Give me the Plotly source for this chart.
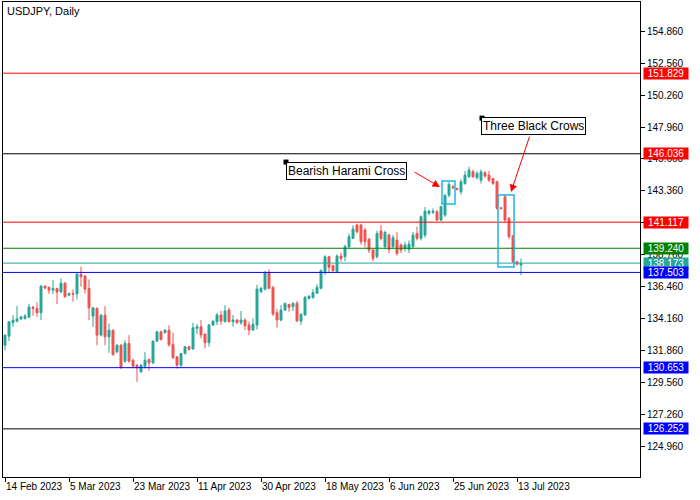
import plotly.graph_objects as go

title_text = "USDJPY, Daily"
opens = [132.27,132.92,133.88,134.0,134.15,134.2,134.29,135.0,134.91,134.6,
 136.52,136.42,136.23,136.35,136.11,136.73,135.87,135.99,135.96,137.38,
 137.24,136.35,134.36,134.91,132.99,134.43,132.87,133.35,131.79,132.27,
 131.12,132.39,131.19,130.83,130.35,130.76,131.24,131.0,132.56,133.23,
 133.18,133.35,132.34,131.43,130.83,
 131.68,132.16,132.0,133.48,133.6,133.07,132.45,133.72,133.96,134.44,
 133.96,134.8,133.96,134.08,133.89,134.08,133.72,133.36,133.72,136.12,
 136.31,137.51,136.43,134.61,134.08,134.8,135.2,135.04,135.28,134.0,
 134.44,135.64,135.71,136.0,136.36,137.56,138.63,137.99,137.56,138.68,
 138.63,139.35,139.95,140.91,140.91,140.55,139.88,139.11,138.63,140.48,
 139.35,140.19,139.35,139.83,139.47,139.23,139.16,139.35,140.31,139.95,
 140.19,141.75,141.82,141.87,141.27,141.63,143.06,143.66,143.54,143.30,
 143.90,144.38,144.74,144.31,144.14,144.67,144.50,144.26,144.02,142.15,
 142.94,141.39,140.12,138.27,138.03]
highs = [133.05,134.0,134.43,135.08,134.4,134.5,135.25,135.1,135.35,136.6,
 136.55,136.5,136.95,136.4,137.07,136.8,136.05,136.28,137.45,137.91,
 137.3,137.0,135.0,135.0,134.5,135.08,133.83,133.4,132.35,132.35,
 132.63,132.99,131.3,130.9,130.9,131.77,131.3,132.6,133.3,133.3,
 133.4,133.71,133.16,131.5,131.7,
 132.2,132.2,133.89,133.8,134.08,133.1,133.8,134.05,134.6,134.73,
 135.16,134.97,134.44,134.15,134.73,134.2,133.96,134.2,136.6,136.45,
 137.6,137.72,136.5,134.87,135.16,135.3,135.25,135.35,135.45,134.55,
 135.8,135.85,136.3,136.65,137.72,138.75,138.7,138.05,138.8,138.92,
 139.5,140.3,140.9,141.0,141.0,140.7,140.0,139.2,140.5,140.9,
 140.5,140.3,140.2,140.4,139.6,139.7,139.8,140.4,140.8,141.6,
 142.2,142.0,142.1,142.0,142.3,143.1,144.0,143.8,143.6,144.2,
 144.8,145.1,144.9,144.8,144.9,144.8,144.8,144.3,144.1,142.2,
 143.1,141.5,140.2,138.3,138.5]
lows = [131.9,132.57,133.59,133.9,134.1,134.1,134.2,134.38,134.3,134.07,
 136.3,135.95,135.95,135.23,136.0,135.7,135.8,135.39,135.56,136.47,
 135.99,134.07,133.59,132.27,132.9,132.27,131.72,131.5,131.7,130.56,
 131.0,131.0,130.6,129.63,130.3,130.6,130.43,130.9,132.5,132.6,
 133.1,132.15,131.3,130.59,130.7,
 131.6,131.88,131.95,133.07,132.76,132.04,132.16,133.65,133.72,133.72,
 133.9,133.9,133.6,133.8,133.72,133.36,133.0,133.3,133.4,136.0,
 136.2,136.3,134.37,133.53,134.0,134.75,134.68,134.73,133.95,133.72,
 134.4,135.55,135.6,135.95,136.3,137.32,137.51,137.55,137.5,138.27,
 138.3,139.2,139.9,140.3,139.5,139.3,138.9,138.3,138.5,139.8,
 139.2,138.9,139.2,138.7,138.9,139.0,138.9,139.2,139.8,139.8,
 140.0,141.6,141.7,141.2,141.2,141.5,142.9,143.5,143.4,143.1,
 143.8,144.3,144.3,144.2,143.9,144.3,144.0,143.8,142.0,142.0,
 141.1,139.9,138.2,138.0,137.3]
closes = [132.99,133.95,134.07,134.15,134.29,134.36,135.01,134.9,134.6,136.52,
 136.38,136.23,136.35,136.09,136.73,135.75,135.99,135.94,137.38,137.19,
 136.3,134.96,134.96,132.99,134.43,132.87,133.35,131.6,132.27,130.66,
 132.39,131.12,130.76,130.64,130.83,131.19,131.0,132.56,133.23,132.68,
 133.35,132.3,131.36,130.83,131.67,
 132.16,131.97,133.53,133.6,133.0,132.45,133.72,134.0,134.44,134.0,
 134.73,133.96,134.08,133.89,134.08,133.67,133.36,133.77,136.31,136.36,
 137.51,136.36,134.51,134.08,134.8,135.28,134.99,135.28,134.0,134.49,
 135.71,135.8,136.05,136.43,137.63,138.63,137.87,137.63,138.68,138.51,
 139.35,140.07,140.62,140.43,139.71,139.71,139.11,138.51,140.31,139.95,
 140.38,139.16,140.0,138.87,139.11,139.47,139.54,140.19,139.95,141.51,
 141.91,141.91,141.91,141.27,142.23,143.06,143.83,143.59,143.47,144.02,
 144.50,144.86,144.38,144.62,144.74,144.43,144.14,143.90,142.11,142.11,
 141.27,140.07,138.27,138.10,138.15]
date_labels = ["14 Feb 2023","5 Mar 2023","23 Mar 2023","11 Apr 2023","30 Apr 2023",
 "18 May 2023","6 Jun 2023","25 Jun 2023","13 Jul 2023"]
date_bars = [0,16,32,48,64,80,96,112,128]
yticks = [154.86,152.56,150.26,147.96,145.66,143.36,141.06,138.76,136.46,134.16,131.86,129.56,127.26,124.96]
levels = [151.829,146.036,141.117,139.240,138.173,137.503,130.653,126.252]
level_line_colors = ["#FF0000","#000000","#FF0000","#008000","#26A69A","#0000FF","#0000FF","#000000"]
level_label_colors = ["#FF0000","#FF0000","#FF0000","#008000","#26A69A","#0000FF","#0000FF","#0000FF"]
patterns = ["Bearish Harami Cross","Three Black Crows"]

idx = list(range(len(closes)))
font = "Liberation Sans"
fig = go.Figure()
fig.add_trace(go.Candlestick(x=idx, open=opens, high=highs, low=lows, close=closes,
    increasing=dict(line=dict(color="#26A69A", width=1), fillcolor="#26A69A"),
    decreasing=dict(line=dict(color="#EF5350", width=1), fillcolor="#EF5350"),
    whiskerwidth=0, showlegend=False, hoverinfo="skip"))

for lv, lc, bc in zip(levels, level_line_colors, level_label_colors):
    fig.add_shape(type="line", xref="paper", x0=0, x1=1, y0=lv, y1=lv,
                  line=dict(color=lc, width=1))
    fig.add_annotation(xref="paper", x=1.004, y=lv, xanchor="left", yanchor="middle",
        text=f"{lv:.3f}", showarrow=False, bgcolor=bc, font=dict(color="white", size=10, family=font),
        borderpad=0, width=44, align="center")

fig.add_shape(type="rect", x0=109.25, x1=112.5, y0=142.42, y1=144.07, line=dict(color="#1EB4E6", width=1.5))
fig.add_shape(type="rect", x0=123.25, x1=127.25, y0=137.89, y1=143.07, line=dict(color="#1EB4E6", width=1.5))

fig.add_annotation(x=70.25, y=144.83, xanchor="left", text=patterns[0], showarrow=False,
    bgcolor="white", bordercolor="black", borderwidth=1, borderpad=1, font=dict(size=12, family=font, color="black"))
fig.add_annotation(x=119, y=148.0, xanchor="left", text=patterns[1], showarrow=False,
    bgcolor="white", bordercolor="black", borderwidth=1, borderpad=1, font=dict(size=12, family=font, color="black"))
fig.add_trace(go.Scatter(x=[70.25,119.25], y=[145.44,148.6], mode="markers",
    marker=dict(symbol="square", size=5, color="black"), showlegend=False, hoverinfo="skip"))
fig.add_annotation(x=108.75, y=143.64, ax=102, ay=144.79, axref="x", ayref="y", text="",
    showarrow=True, arrowhead=2, arrowsize=1.5, arrowwidth=1, arrowcolor="red")
fig.add_annotation(x=126.5, y=143.28, ax=131.25, ay=147.38, axref="x", ayref="y", text="",
    showarrow=True, arrowhead=2, arrowsize=1.5, arrowwidth=1, arrowcolor="red")

fig.add_annotation(xref="paper", yref="paper", x=0.003, y=0.997, xanchor="left", yanchor="top",
    text=title_text, showarrow=False, font=dict(size=11, family=font, color="black"))

fig.update_layout(width=700, height=500, margin=dict(l=3, r=60, t=2, b=23, autoexpand=False),
    paper_bgcolor="white", plot_bgcolor="white", font=dict(family=font, size=10, color="black"))
fig.update_xaxes(range=[-0.5, 158.75], rangeslider_visible=False, showgrid=False, zeroline=False,
    tickvals=date_bars, ticktext=date_labels, ticks="outside", ticklen=4, tickcolor="black",
    ticklabelposition="outside right", tickangle=0, automargin=False, showline=True, linecolor="black", mirror=True,
    tickfont=dict(size=10, family=font))
fig.update_yaxes(side="right", range=[122.79, 156.95], showgrid=False, zeroline=False, automargin=False,
    tickvals=yticks, ticktext=[f"{v:.3f}" for v in yticks], ticks="outside", ticklen=4,
    tickcolor="black", showline=True, linecolor="black", mirror=True, tickfont=dict(size=10, family=font))
fig.write_html("out.html", config={"displayModeBar": False},
               post_script="document.body.style.margin='0';")
